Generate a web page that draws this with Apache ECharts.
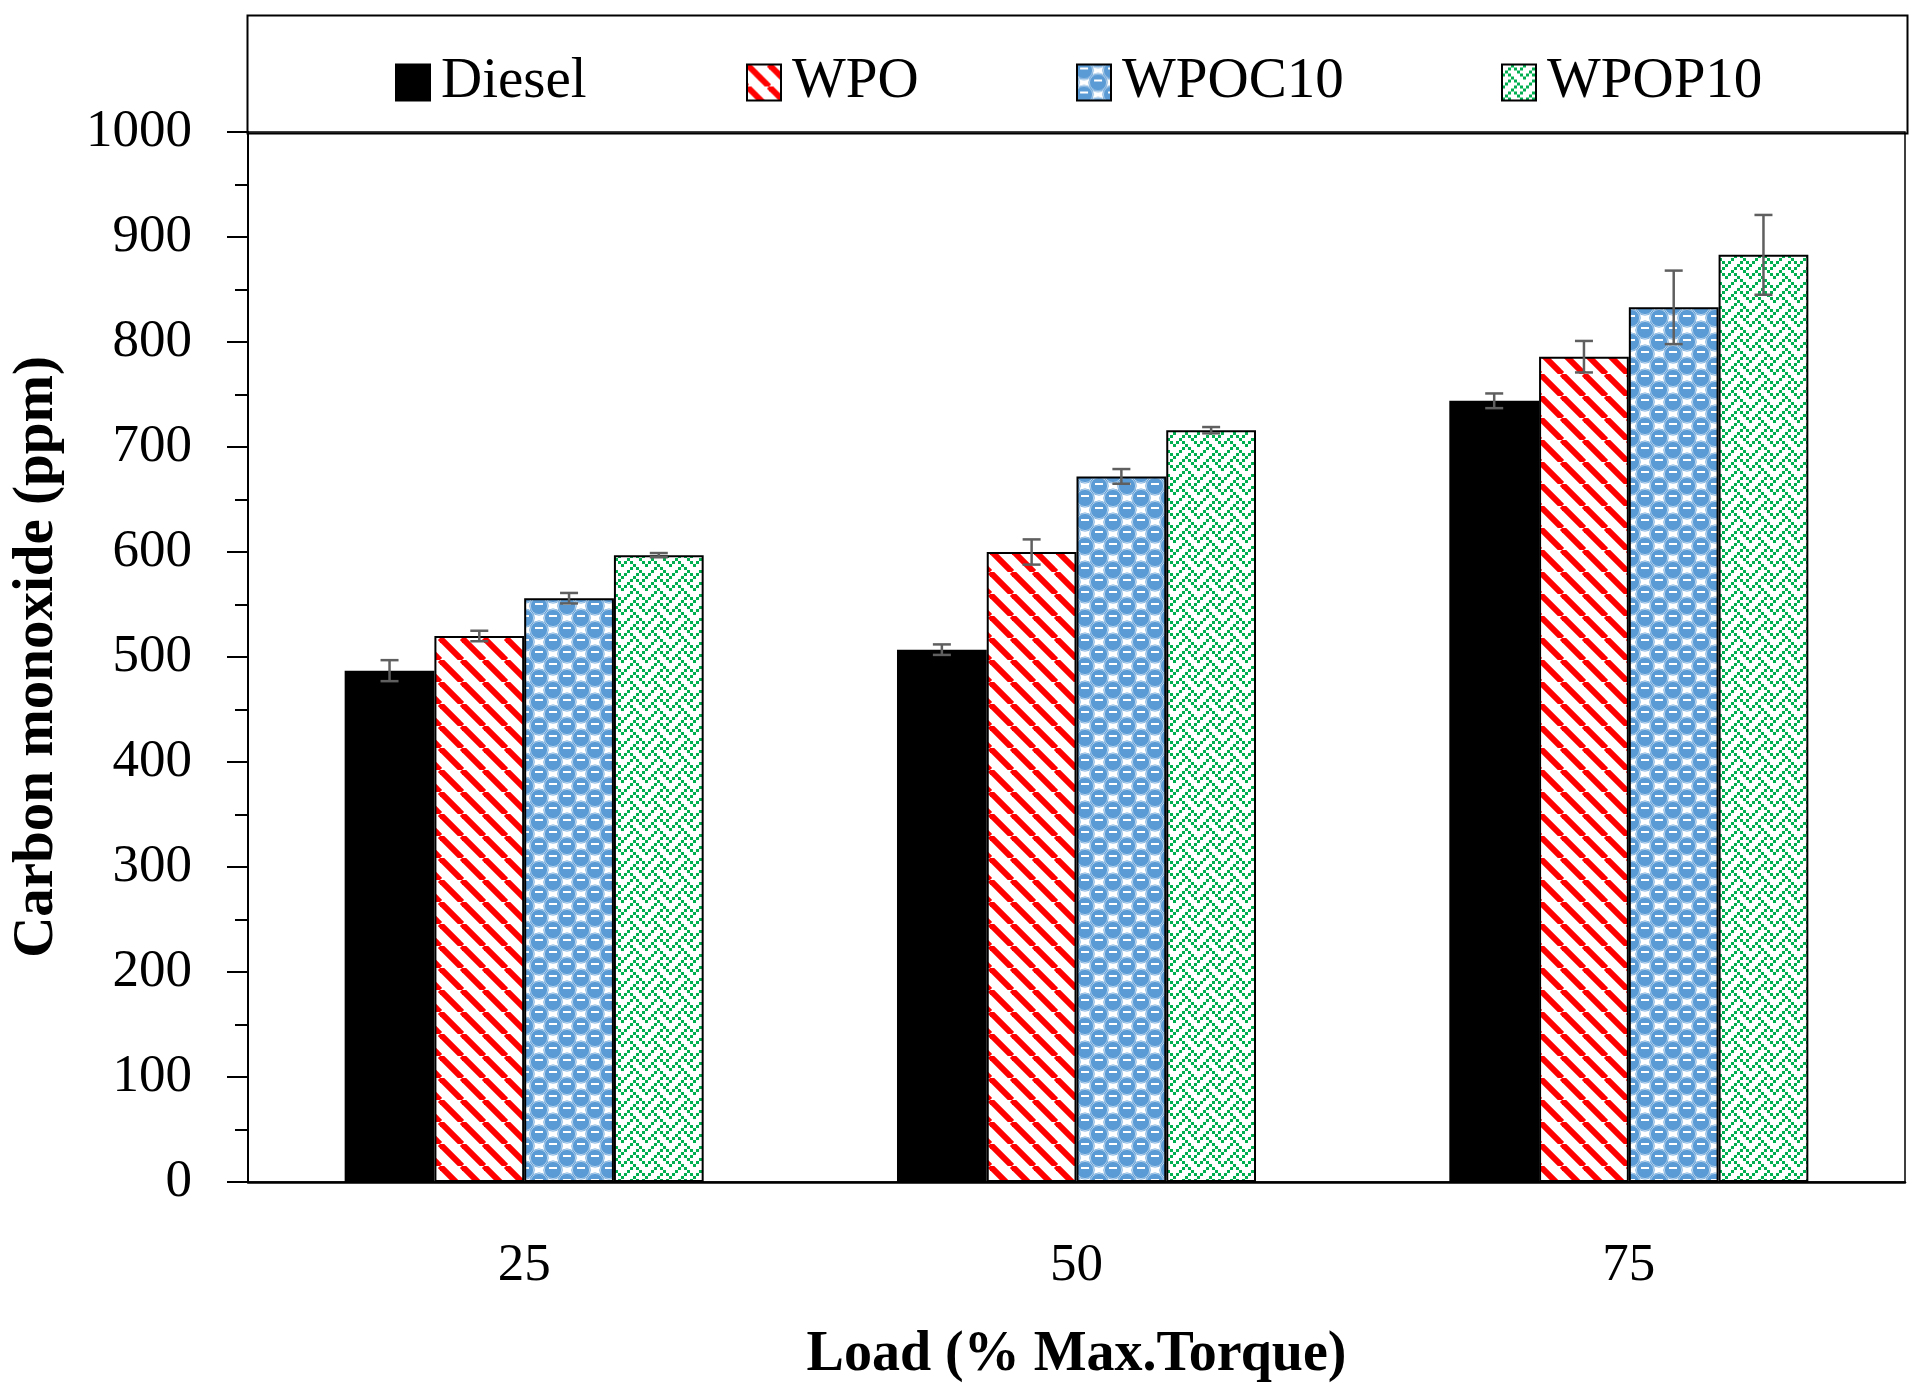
<!DOCTYPE html>
<html><head><meta charset="utf-8">
<script src="https://cdn.jsdelivr.net/npm/echarts@6/dist/echarts.min.js"></script>
<style>html,body{margin:0;padding:0;background:#fff}#c{width:1917px;height:1392px}</style>
</head><body><div id="c"></div>
<script>
const categories = ['25', '50', '75'];
const seriesNames = ['Diesel', 'WPO', 'WPOC10', 'WPOP10'];
const diesel = [487, 507, 744];
const wpo = [520, 600, 786];
const wpoc10 = [556, 672, 833];
const wpop10 = [597, 716, 883];
const dieselErr = [10, 5, 7];
const wpoErr = [5, 12, 15];
const wpoc10Err = [5, 7, 35];
const wpop10Err = [2, 3, 38];
const yTicks = [0, 100, 200, 300, 400, 500, 600, 700, 800, 900, 1000];

const FONT = '"Liberation Serif", "DejaVu Serif", serif';

function stripeTile() {
  const s = 22, c = document.createElement('canvas');
  c.width = s; c.height = s;
  const g = c.getContext('2d');
  g.fillStyle = '#fff'; g.fillRect(0, 0, s, s);
  g.strokeStyle = '#ff0000'; g.lineWidth = 6;
  for (let k = -1; k <= 1; k++) {
    g.beginPath(); g.moveTo(k * s, 0); g.lineTo(k * s + s, s); g.stroke();
  }
  return c;
}
function dotTile() {
  const w = 28, h = 24, c = document.createElement('canvas');
  c.width = w; c.height = h;
  const g = c.getContext('2d');
  g.fillStyle = '#fff'; g.fillRect(0, 0, w, h);
  const centers = [[7, 6], [21, 18]];
  for (const [cx, cy] of centers) {
    for (let dx = -1; dx <= 1; dx++) for (let dy = -1; dy <= 1; dy++) {
      const x = cx + dx * w, y = cy + dy * h;
      g.fillStyle = '#5b9bd5';
      g.beginPath(); g.arc(x, y, 9.6, 0, Math.PI * 2); g.fill();
      g.strokeStyle = 'rgba(255,255,255,0.55)'; g.lineWidth = 1;
      g.beginPath(); g.arc(x, y, 8.6, 0, Math.PI * 2); g.stroke();
      g.fillStyle = '#fff';
      g.fillRect(x - 4, y - 3, 8, 2);
    }
  }
  return c;
}
function weaveTile() {
  const bits = [0x11, 0x2a, 0x44, 0xa2, 0x11, 0x28, 0x44, 0x8a];
  const p = 3, c = document.createElement('canvas');
  c.width = 8 * p; c.height = 8 * p;
  const g = c.getContext('2d');
  g.fillStyle = '#fff'; g.fillRect(0, 0, 8 * p, 8 * p);
  g.fillStyle = '#00b050';
  for (let r = 0; r < 8; r++) for (let col = 0; col < 8; col++) {
    if (bits[r] & (0x80 >> col)) g.fillRect(col * p, r * p, p, p);
  }
  return c;
}

const fills = [
  '#000000',
  { image: stripeTile(), repeat: 'repeat' },
  { image: dotTile(), repeat: 'repeat' },
  { image: weaveTile(), repeat: 'repeat' }
];
const values = [diesel, wpo, wpoc10, wpop10];
const errs = [dieselErr, wpoErr, wpoc10Err, wpop10Err];
const GAP = 0.35;

const series = [];
seriesNames.forEach((n, i) => {
  series.push({
    name: n, type: 'bar', data: values[i],
    barGap: '0%', barCategoryGap: (GAP * 100) + '%',
    itemStyle: { color: fills[i], borderColor: '#000', borderWidth: 2 },
    silent: true
  });
});
seriesNames.forEach((n, i) => {
  series.push({
    name: n + ' err', type: 'custom', z: 5, silent: true,
    data: categories.map((c, k) => [k, values[i][k] - errs[i][k], values[i][k] + errs[i][k]]),
    encode: { x: 0, y: [1, 2] },
    renderItem: function (params, api) {
      const k = api.value(0);
      const band = api.size([1, 0])[0];
      const bw = band * (1 - GAP) / 4;
      const off = (i - 1.5) * bw;
      const lo = api.coord([k, api.value(1)]);
      const hi = api.coord([k, api.value(2)]);
      const x = lo[0] + off;
      const cap = 9;
      const st = { stroke: '#5f5f5f', lineWidth: 2.5, fill: null };
      return {
        type: 'group', children: [
          { type: 'line', shape: { x1: x, y1: lo[1], x2: x, y2: hi[1] }, style: st },
          { type: 'line', shape: { x1: x - cap, y1: lo[1], x2: x + cap, y2: lo[1] }, style: st },
          { type: 'line', shape: { x1: x - cap, y1: hi[1], x2: x + cap, y2: hi[1] }, style: st }
        ]
      };
    }
  });
});

const legendLefts = [395, 746, 1076, 1501];
const legends = seriesNames.map((n, i) => ({
  data: [n], left: legendLefts[i], top: 54, padding: 0,
  itemWidth: 34, itemHeight: 36, icon: 'rect',
  selectedMode: false,
  textStyle: { fontFamily: FONT, fontSize: 57, color: '#000', padding: [0, 0, 0, 6] }
}));

const chart = echarts.init(document.getElementById('c'));
chart.setOption({
  animation: false,
  backgroundColor: '#fff',
  graphic: [{
    type: 'rect', left: 245, top: 13,
    shape: { width: 1660, height: 118 },
    style: { fill: null, stroke: '#000', lineWidth: 2 }
  }],
  legend: legends,
  grid: { left: 248, right: 12, top: 132, bottom: 210, show: true, borderColor: '#000', borderWidth: 1.5 },
  xAxis: {
    type: 'category', data: categories,
    axisLine: { lineStyle: { color: '#000', width: 2.5 } },
    axisTick: { show: false },
    axisLabel: { fontFamily: FONT, fontSize: 53, color: '#000', margin: 58 },
    name: 'Load (% Max.Torque)', nameLocation: 'middle', nameGap: 146,
    nameTextStyle: { fontFamily: FONT, fontSize: 56, fontWeight: 'bold', color: '#000' }
  },
  yAxis: {
    type: 'value', min: yTicks[0], max: yTicks[yTicks.length - 1], interval: 100,
    axisLine: { show: true, lineStyle: { color: '#000', width: 2 } },
    axisTick: { show: true, length: 21, lineStyle: { color: '#000', width: 2 } },
    minorTick: { show: true, splitNumber: 2, length: 13, lineStyle: { color: '#000', width: 2 } },
    splitLine: { show: false },
    axisLabel: { fontFamily: FONT, fontSize: 53, color: '#000', margin: 56, formatter: v => String(v) },
    name: 'Carbon monoxide (ppm)', nameLocation: 'middle', nameGap: 182,
    nameTextStyle: { fontFamily: FONT, fontSize: 57, fontWeight: 'bold', color: '#000' }
  },
  series: series
});
</script></body></html>
